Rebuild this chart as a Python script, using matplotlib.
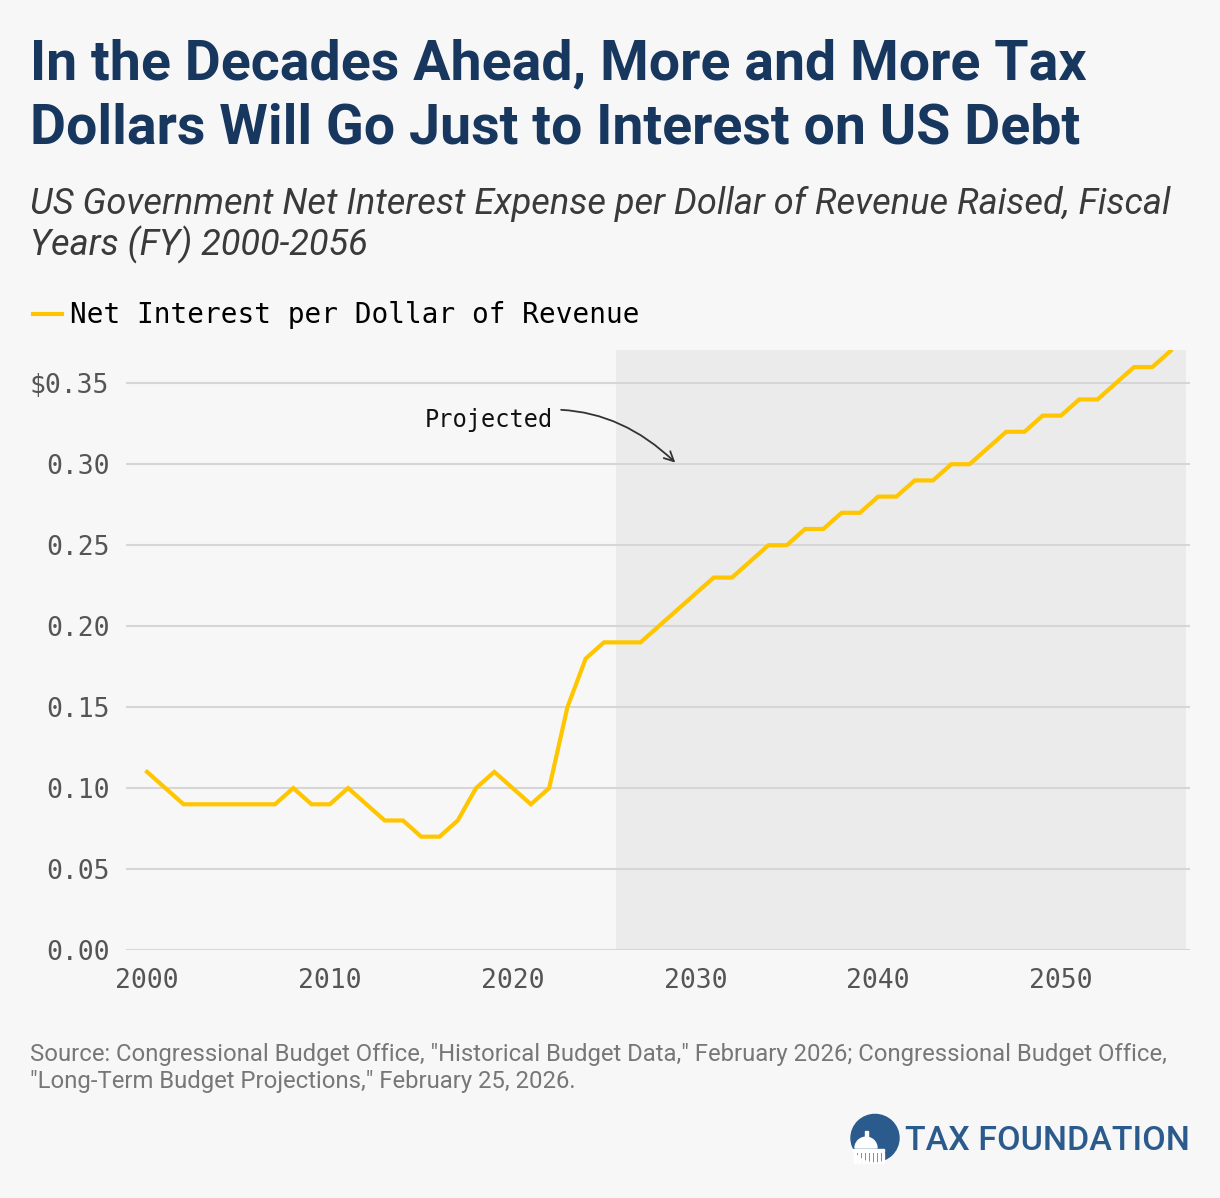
import matplotlib.pyplot as plt
from matplotlib.patches import Circle, Rectangle, Wedge

years = list(range(2000, 2057))
interest = [0.11, 0.10, 0.09, 0.09, 0.09, 0.09, 0.09, 0.09, 0.10, 0.09,
            0.09, 0.10, 0.09, 0.08, 0.08, 0.07, 0.07, 0.08, 0.10, 0.11,
            0.10, 0.09, 0.10, 0.15, 0.18, 0.19, 0.19, 0.19, 0.20, 0.21,
            0.22, 0.23, 0.23, 0.24, 0.25, 0.25, 0.26, 0.26, 0.27, 0.27,
            0.28, 0.28, 0.29, 0.29, 0.30, 0.30, 0.31, 0.32, 0.32, 0.33,
            0.33, 0.34, 0.34, 0.35, 0.36, 0.36, 0.37]
yticks = [0.0, 0.05, 0.10, 0.15, 0.20, 0.25, 0.30, 0.35]
ytick_labels = ['0.00', '0.05', '0.10', '0.15', '0.20', '0.25', '0.30', '$0.35']
xticks = [2000, 2010, 2020, 2030, 2040, 2050]

bg = '#f7f7f7'
mono = ['DejaVu Sans Mono']
W, H = 1220, 1198

fig = plt.figure(figsize=(12.2, 11.98), dpi=100, facecolor=bg)
ax = fig.add_axes([0.1033, 0.2070, 0.8721, 0.5008], facecolor=bg)

ax.axvspan(2025.65, 2056.85, color='#ebebeb', zorder=0, lw=0)
ax.plot(years, interest, color='#ffc600', lw=3, solid_joinstyle='miter',
        label='Net Interest per Dollar of Revenue', zorder=3)

ax.set_xlim(1998.85, 2057.06)
ax.set_ylim(0, 0.3705)
ax.set_yticks(yticks)
ax.set_yticklabels(ytick_labels, family=mono, fontsize=19, color='#555555')
ax.set_xticks(xticks)
ax.set_xticklabels([str(x) for x in xticks], family=mono, fontsize=19, color='#555555')
ax.tick_params(length=0, pad=12)
ax.tick_params(axis='x', pad=13)
ax.grid(axis='y', color='#d6d6d6', lw=1.5, zorder=1)
for s in ax.spines.values():
    s.set_visible(False)

ax.annotate('Projected', xy=(2028.9, 0.301), xytext=(2022.2, 0.327),
            family=mono, fontsize=17, color='#111111', ha='right', va='center',
            arrowprops=dict(arrowstyle='->', color='#333333', lw=1.3,
                            connectionstyle='arc3,rad=-0.3',
                            shrinkA=4, shrinkB=0))

leg = ax.legend(loc='lower left', bbox_to_anchor=(-0.098, 1.016), frameon=False,
                prop={'family': mono, 'size': 20}, handlelength=1.05,
                handletextpad=0.3, borderaxespad=0)
for line in leg.get_lines():
    line.set_linewidth(3)

fig.text(0.025, 1 - 38 / H, 'In the Decades Ahead, More and More Tax\nDollars Will Go Just to Interest on US Debt',
         family='Roboto', weight='bold', fontsize=40, color='#17375e',
         va='top', ha='left', linespacing=1.3)
fig.text(0.025, 1 - 186 / H, 'US Government Net Interest Expense per Dollar of Revenue Raised, Fiscal\nYears (FY) 2000-2056',
         family='Roboto', style='italic', fontsize=26, color='#3a3a3a',
         va='top', ha='left', linespacing=1.13)
fig.text(0.025, 1 - 1043 / H, 'Source: Congressional Budget Office, "Historical Budget Data," February 2026; Congressional Budget Office,\n"Long-Term Budget Projections," February 25, 2026.',
         family='Roboto', fontsize=17.2, color='#777777', va='top', ha='left',
         linespacing=1.2)

# logo
tf = fig.transFigure
blue = '#2b5a8c'
fig.patches.append(Circle((875 / W, 1 - 1138 / H), 24 / W, transform=tf, color=blue, zorder=5))
fig.patches.append(Wedge((866 / W, 1 - 1148 / H), 11 / W, 0, 180, transform=tf,
                         color='white', zorder=6))
fig.patches.append(Rectangle((864.5 / W, 1 - 1139 / H), 3 / W, 8 / H, transform=tf,
                             color='white', zorder=6))
fig.patches.append(Rectangle((852 / W, 1 - 1152 / H), 32 / W, 3 / H, transform=tf,
                             color='white', zorder=6))
for i in range(8):
    fig.patches.append(Rectangle(((854 + i * 4) / W, 1 - 1163 / H), 1.5 / W, 10 / H,
                                 transform=tf, color='white', zorder=6))
fig.text(1190 / W, 1 - 1141 / H, 'TAX FOUNDATION', family='Roboto', weight='medium',
         fontsize=24.5, color=blue, ha='right', va='center')

fig.savefig('out.png', dpi=100, facecolor=bg)
